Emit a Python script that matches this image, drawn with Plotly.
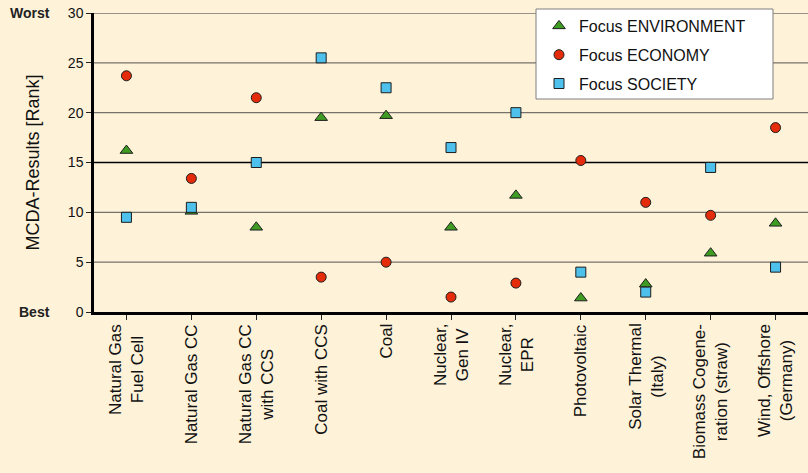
import plotly.graph_objects as go

# Technologies on the x axis (line breaks as in the printed labels)
technologies = [
    "Natural Gas<br>Fuel Cell",
    "Natural Gas CC",
    "Natural Gas CC<br>with CCS",
    "Coal with CCS",
    "Coal",
    "Nuclear,<br>Gen IV",
    "Nuclear,<br>EPR",
    "Photovoltaic",
    "Solar Thermal<br>(Italy)",
    "Biomass Cogene-<br>ration (straw)",
    "Wind, Offshore<br>(Germany)",
]

# MCDA rank for each weighting focus
rank_environment = [16.2, 10.1, 8.5, 19.5, 19.7, 8.5, 11.7, 1.4, 2.8, 5.9, 8.9]
rank_economy = [23.7, 13.4, 21.5, 3.5, 5.0, 1.5, 2.9, 15.2, 11.0, 9.7, 18.5]
rank_society = [9.5, 10.5, 15.0, 25.5, 22.5, 16.5, 20.0, 4.0, 2.0, 14.5, 4.5]

y_ticks = [0, 5, 10, 15, 20, 25, 30]
mid_rank = 15

FONT = "Liberation Sans, Arial, sans-serif"
BG = "#FEF3D9"
x_idx = list(range(len(technologies)))

fig = go.Figure()

series = [
    ("Focus ENVIRONMENT", rank_environment, "triangle-up", "#3E9C22", 11),
    ("Focus ECONOMY", rank_economy, "circle", "#E42B0A", 10),
    ("Focus SOCIETY", rank_society, "square", "#4EC0EC", 10),
]
for i, (name, vals, sym, col, sz) in enumerate(series):
    fig.add_trace(go.Scatter(
        x=x_idx, y=vals, mode="markers", name=name,
        legendgroup=name,
        marker=dict(symbol=sym, color=col, size=sz,
                    line=dict(color="#1E1E1E", width=1)),
    ))

# horizontal grid, the mid rank drawn in black
for v in y_ticks[1:]:
    fig.add_shape(type="line", xref="paper", yref="y", x0=0, x1=1, y0=v, y1=v,
                  line=dict(color="#000000" if v == mid_rank else "#76716A",
                            width=1.3), layer="below")

# legend frame
fig.add_shape(type="rect", xref="paper", yref="paper",
              x0=(536 - 94) / 714, x1=(773 - 94) / 714,
              y0=1 - (99 - 13) / 299, y1=1 + (13 - 9) / 299,
              fillcolor="white", line=dict(color="#7F7F7F", width=1), layer="above")

# category labels below the axis
for i, t in enumerate(technologies):
    fig.add_annotation(x=i, y=-10 / 299, xref="x", yref="paper", text=t,
                       textangle=-90, showarrow=False, xanchor="center",
                       yanchor="top", align="center",
                       font=dict(family=FONT, size=17, color="#111111"))

# scale end labels
for lab, val in (("Worst", 30), ("Best", 0)):
    fig.add_annotation(x=(52 - 94) / 714, y=val, xref="paper", yref="y",
                       text="<b>%s</b>" % lab, showarrow=False, xanchor="right",
                       yanchor="middle",
                       font=dict(family=FONT, size=14, color="#222222"))

fig.update_layout(
    width=808, height=473,
    margin=dict(l=94, r=0, t=13, b=161, pad=0),
    paper_bgcolor=BG, plot_bgcolor=BG,
    font=dict(family=FONT, size=14, color="#111111"),
    showlegend=True,
    legend=dict(
        x=(539 - 94) / 714, y=1 + (17 - 13) / 299, xanchor="left", yanchor="top",
        bgcolor="rgba(0,0,0,0)", borderwidth=0,
        font=dict(family=FONT, size=16, color="#111111"),
        traceorder="grouped", tracegroupgap=5, itemwidth=30,
    ),
    xaxis=dict(
        range=[-0.5, len(technologies) - 0.5],
        tickmode="array", tickvals=x_idx, ticktext=[""] * len(x_idx),
        tickson="boundaries", ticks="outside", ticklen=5, tickcolor="#222222",
        showgrid=False, zeroline=False,
        showline=True, linecolor="#000000", linewidth=2.5,
        showticklabels=False,
    ),
    yaxis=dict(
        range=[0, 30], tickmode="array", tickvals=y_ticks,
        ticks="outside", ticklen=5, tickcolor="#222222",
        showgrid=False,
        zeroline=False, showline=True, linecolor="#000000", linewidth=2.5,
        tickfont=dict(family=FONT, size=14, color="#111111"),
        title=dict(text="MCDA-Results [Rank]", standoff=24,
                   font=dict(family=FONT, size=18, color="#111111")),
    ),
)

fig.write_html("out.html")
